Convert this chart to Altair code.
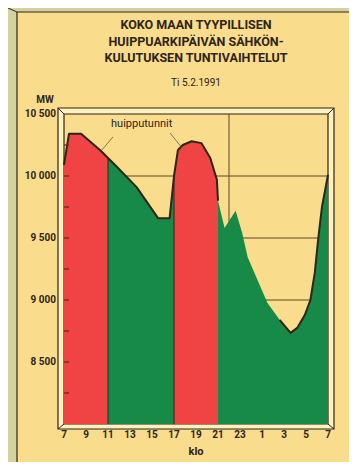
import altair as alt
import pandas as pd

# hours since 07:00 (0 = klo 7, 24 = klo 7 next morning) and load in MW
hours = [0, 0.45, 1.55, 3.27, 4.0, 4.8, 6.6, 8.55, 9.6, 10.0, 10.36, 10.8, 11.6,
         12.5, 13.3, 13.9, 14.0, 14.6, 15.6, 16.2, 16.7, 17.6, 18.5, 19.6, 20.6,
         21.2, 21.9, 22.4, 22.8, 23.1, 23.45, 24]
mw = [10090, 10340, 10340, 10210, 10145, 10075, 9910, 9660, 9660, 10000, 10210,
      10250, 10280, 10265, 10145, 9970, 9800, 9580, 9720, 9540, 9345, 9160, 8975,
      8840, 8735, 8775, 8880, 9000, 9220, 9485, 9750, 10010]

peak_periods = [(0, 4), (10, 14)]          # klo 7-11 and 17-21
outline_periods = [(0, 14), (19.6, 24)]
peak_edges = [4, 10]
x_tick_values = list(range(0, 25, 2))
x_tick_labels = ["7", "9", "11", "13", "15", "17", "19", "21", "23", "1", "3", "5", "7"]
y_grid_values = [9000, 9500, 10000]
y_label_values = [8500, 9000, 9500, 10000, 10500]
y_tick_labels = ["8 500", "9 000", "9 500", "10 000", "10 500"]
y_minor_ticks = [8250, 8500, 8750, 9000, 9250, 9500, 9750, 10000, 10250]
v_grid_values = [15]

title_lines = ["KOKO MAAN TYYPILLISEN", "HUIPPUARKIPÄIVÄN SÄHKÖN-", "KULUTUKSEN TUNTIVAIHTELUT"]
subtitle = "Ti 5.2.1991"
y_unit = "MW"
x_title = "klo"
note = "huipputunnit"
note_pos = [7.06, 10419]
leaders = [(4.45, 10315, 3.45, 10210), (9.64, 10347, 10.73, 10226)]

YELLOW = "#f9dc8c"
CREAM = "#fcf2bf"
BEVEL = "#d4d29e"
DARK = "#2e2418"
RED = "#ef4344"
GREEN = "#178a48"
FONT = "Roboto"

W, H = 264, 310


def group_of(h, periods):
    for i, (a, b) in enumerate(periods):
        if a <= h <= b:
            return f"s{i}"
    return ""


df = pd.DataFrame({"h": hours, "mw": mw})
df["peak"] = [group_of(h, peak_periods) for h in hours]
df["outline"] = [group_of(h, outline_periods) for h in hours]

xs = alt.Scale(domain=[0, 24], nice=False)
ys = alt.Scale(domain=[8000, 10500], nice=False, zero=False)
one = alt.Data(values=[{"k": 1}])


def box(x, x2, y, y2, fill, stroke=None, sw=0):
    kw = dict(fill=fill)
    if stroke:
        kw.update(stroke=stroke, strokeWidth=sw)
    return alt.Chart(one).mark_rect(**kw).encode(
        x=alt.value(x), x2=alt.value(x2), y=alt.value(y), y2=alt.value(y2))


def seg(x, y, x2, y2, color=DARK, sw=1.0):
    return alt.Chart(one).mark_rule(color=color, strokeWidth=sw).encode(
        x=alt.value(x), x2=alt.value(x2), y=alt.value(y), y2=alt.value(y2))


def txt(s, x, y, size, weight="bold", align="center"):
    return alt.Chart(one).mark_text(
        font=FONT, fontSize=size, fontWeight=weight, color=DARK,
        align=align, baseline="middle").encode(
        x=alt.value(x), y=alt.value(y), text=alt.value(s))


layers = []
# outer panel bevel
layers += [box(-56, -47, -106, 348, BEVEL), box(-56, 290, -106, -102, BEVEL),
           seg(-47, -102, -47, 348, DARK, 1.2), seg(-47, -102, 290, -102, DARK, 1.2),
           seg(-56, -106, -47, -102, DARK, 1)]
# plot frame bevel
layers += [box(-6, W + 6, -6, H + 5, CREAM, DARK, 1.2),
           box(0, W, 0, H, YELLOW, DARK, 1.2)]

# gridlines
grid_df = pd.DataFrame({"v": y_grid_values})
layers.append(alt.Chart(grid_df).mark_rule(color="#5a4a2c", strokeWidth=1).encode(
    y=alt.Y("v:Q", scale=ys, axis=None)))
vg_df = pd.DataFrame({"v": v_grid_values})
layers.append(alt.Chart(vg_df).mark_rule(color="#5a4a2c", strokeWidth=1).encode(
    x=alt.X("v:Q", scale=xs, axis=None)))

# green area
layers.append(alt.Chart(df).mark_area(color=GREEN, opacity=1).encode(
    x=alt.X("h:Q", scale=xs, axis=None),
    y=alt.Y("mw:Q", scale=ys, axis=None),
    y2=alt.datum(8000)))

# red peak hours
layers.append(alt.Chart(df).transform_filter("datum.peak != ''").mark_area(
    color=RED, opacity=1).encode(
    x=alt.X("h:Q", scale=xs, axis=None),
    y=alt.Y("mw:Q", scale=ys, axis=None),
    y2=alt.datum(8000),
    detail="peak:N"))

# red/green boundaries
edge_df = pd.DataFrame({"h": peak_edges,
                        "mw": [df.loc[df.h == e, "mw"].iloc[0] for e in peak_edges]})
layers.append(alt.Chart(edge_df).mark_rule(color=DARK, strokeWidth=1).encode(
    x=alt.X("h:Q", scale=xs, axis=None),
    y=alt.Y("mw:Q", scale=ys, axis=None), y2=alt.datum(8000)))

# dark outline on curve
layers.append(alt.Chart(df).transform_filter("datum.outline != ''").mark_line(
    color=DARK, strokeWidth=2, strokeJoin="round").encode(
    x=alt.X("h:Q", scale=xs, axis=None),
    y=alt.Y("mw:Q", scale=ys, axis=None),
    detail="outline:N"))

# y ticks inside frame
tick_df = pd.DataFrame({"v": y_minor_ticks})
layers.append(alt.Chart(tick_df).mark_rule(color="#7a2a1a", strokeWidth=1.4).encode(
    y=alt.Y("v:Q", scale=ys, axis=None), x=alt.value(0), x2=alt.value(5)))

# frame corner diagonals
layers += [seg(-6, -6, 0, 0), seg(W + 6, -6, W, 0), seg(-6, H + 5, 0, H), seg(W + 6, H + 5, W, H)]

# axis labels (through the scales)
xl_df = pd.DataFrame({"v": x_tick_values, "t": x_tick_labels})
layers.append(alt.Chart(xl_df).mark_text(
    font=FONT, fontSize=10, fontWeight="bold", color=DARK, baseline="middle").encode(
    x=alt.X("v:Q", scale=xs, axis=None), y=alt.value(H + 11), text="t:N"))
yl_df = pd.DataFrame({"v": y_label_values, "t": y_tick_labels})
layers.append(alt.Chart(yl_df).mark_text(
    font=FONT, fontSize=10, fontWeight="bold", color=DARK, baseline="middle",
    align="right").encode(
    y=alt.Y("v:Q", scale=ys, axis=None), x=alt.value(-8), text="t:N"))

# texts
layers += [txt(title_lines[0], W / 2, -89, 12.5),
           txt(title_lines[1], W / 2, -72, 12.5),
           txt(title_lines[2], W / 2, -56, 12.5),
           txt(subtitle, W / 2, -31, 10, "normal"),
           txt(y_unit, -19, -14, 10),
           txt(x_title, W / 2, 338, 11)]

note_df = pd.DataFrame({"h": [note_pos[0]], "mw": [note_pos[1]], "t": [note]})
layers.append(alt.Chart(note_df).mark_text(
    font=FONT, fontSize=11, color=DARK, baseline="middle").encode(
    x=alt.X("h:Q", scale=xs, axis=None), y=alt.Y("mw:Q", scale=ys, axis=None),
    text="t:N"))
lead_df = pd.DataFrame(leaders, columns=["x1", "y1", "x2", "y2"])
layers.append(alt.Chart(lead_df).mark_rule(color="#6a5a3a", strokeWidth=0.8).encode(
    x=alt.X("x1:Q", scale=xs, axis=None), y=alt.Y("y1:Q", scale=ys, axis=None),
    x2="x2:Q", y2="y2:Q"))

chart = alt.layer(*layers).properties(
    width=W, height=H,
    autosize=alt.AutoSizeParams(type="none"),
    padding={"left": 56, "top": 106, "right": 21, "bottom": 38},
    background=YELLOW,
).configure_view(strokeWidth=0)

chart.save("out.html", embed_options={"renderer": "svg", "actions": False})
